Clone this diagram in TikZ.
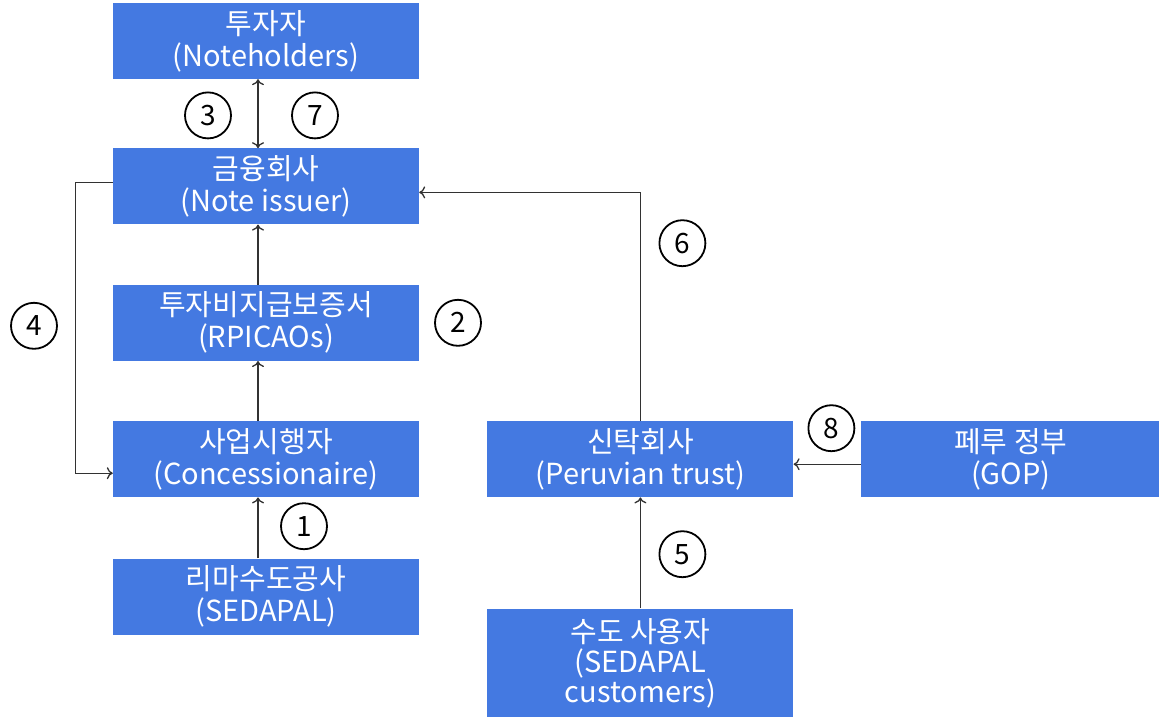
\documentclass[tikz,border=0pt]{standalone}
\usepackage{fontspec}
\setmainfont{Noto Sans CJK KR}
\usetikzlibrary{positioning,calc,arrows.meta}
\definecolor{boxblue}{RGB}{68,121,225}
\definecolor{linegray}{RGB}{50,50,50}
\tikzstyle{line} = [draw, -{To[length=6pt,width=12pt]}, linegray, line width=1.3pt]
\tikzstyle{block} = [rectangle, fill=boxblue, text=white, align=center, inner sep=0pt, minimum width=306pt, minimum height=76pt, font=\fontsize{29}{32}\selectfont]
\tikzstyle{num} = [circle, draw, line width=1.8pt, inner sep=0pt, minimum size=46pt, font=\fontsize{28}{28}\selectfont]

\begin{document}
\begin{tikzpicture}[x=1pt,y=-1pt]
\useasboundingbox (0,0) rectangle (1159,717);

\node [block] (holders) at (266,41) {투자자\\(Noteholders)};
\node [block, below=69pt of holders] (issuer) {금융회사\\(Note issuer)};
\node [block, below=60pt of issuer] (rpicao) {투자비지급보증서\\(RPICAOs)};
\node [block, below=60pt of rpicao] (conc) {사업시행자\\(Concessionaire)};
\node [block, below=61pt of conc] (sedapal) {리마수도공사\\(SEDAPAL)};

\node [block, right=68pt of conc] (trust) {신탁회사\\(Peruvian trust)};
\node [block, right=67pt of trust, minimum width=300pt] (gop) {페루 정부\\(GOP)};
\node [block, below=111pt of trust, minimum height=110pt, font=\fontsize{29}{30}\selectfont] (users) {수도 사용자\\(SEDAPAL\\customers)};

\node [num] (n3) at ($(issuer) + (-58,-71)$) {3};
\node [num] (n7) at ($(issuer) + (49,-71)$) {7};
\node [num] (n4) at ($(rpicao) + (-232,3)$) {4};
\node [num] (n2) at ($(rpicao) + (192,0)$) {2};
\node [num] (n1) at ($(conc) + (38,67)$) {1};
\node [num] (n6) at ($(trust) + (42,-216)$) {6};
\node [num] (n5) at ($(trust) + (42,95)$) {5};
\node [num] (n8) at ($(trust) + (191,-31)$) {8};

\path [line, {To[length=6pt,width=12pt]}-{To[length=6pt,width=12pt]}] ([xshift=-8pt]holders.south) -- ([xshift=-8pt]issuer.north);
\path [line] ([xshift=-8pt]rpicao.north) -- ([xshift=-8pt]issuer.south);
\path [line] ([xshift=-8pt]conc.north) -- ([xshift=-8pt]rpicao.south);
\path [line] ([xshift=-8pt]sedapal.north) -- ([xshift=-8pt]conc.south);
\path [line] ([yshift=4pt]issuer.west) -- ++(-37,0) |- ([yshift=-14pt]conc.west);
\path [line] (trust.north) |- ([yshift=-6pt]issuer.east);
\path [line] (users.north) -- (trust.south);
\path [line] ([yshift=-5pt]gop.west) -- ([yshift=-5pt]trust.east);

\end{tikzpicture}
\end{document}
